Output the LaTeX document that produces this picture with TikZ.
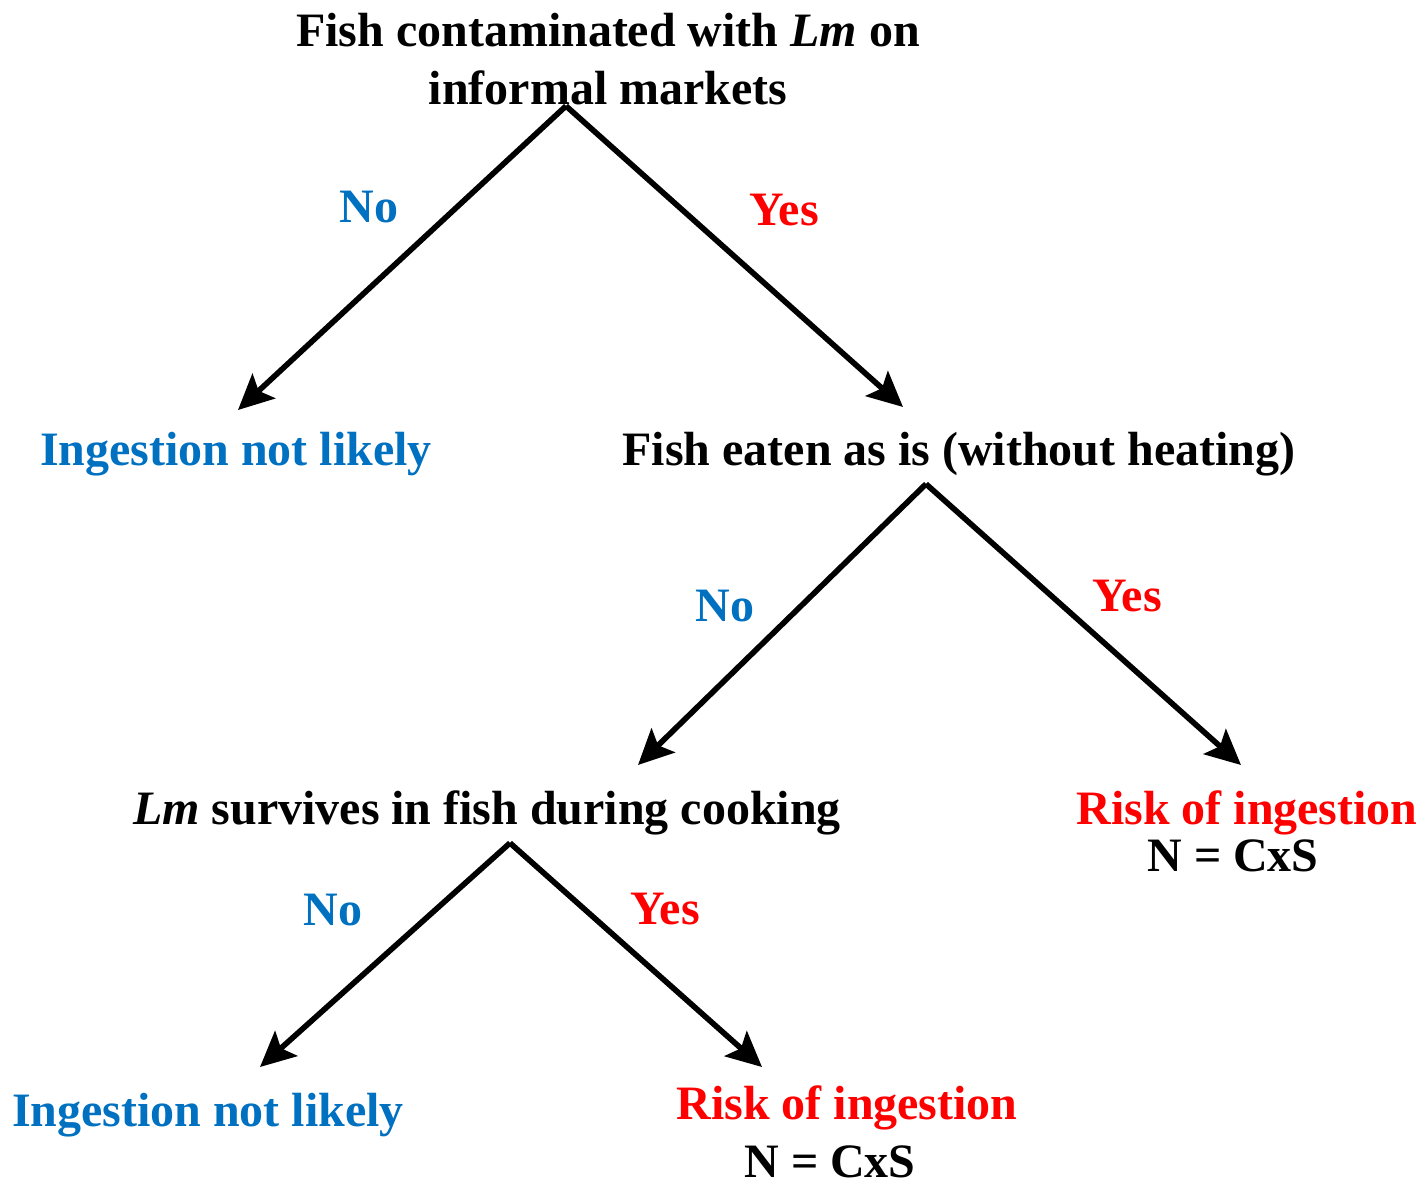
\documentclass[tikz,border=0pt]{standalone}
\usepackage{fontspec}
\setmainfont{Liberation Serif}
\usetikzlibrary{arrows.meta}
\definecolor{noblue}{RGB}{0,112,192}
\definecolor{yesred}{RGB}{255,0,0}

\begin{document}
\begin{tikzpicture}[x=0.02cm,y=-0.02cm,nodes={font=\fontsize{27.3}{33}\selectfont\bfseries,inner sep=0}]
\tikzstyle{branch}=[line width=3.2pt,-{Stealth[length=20pt,width=19pt,inset=4pt]}]
\tikzstyle{no}=[text=noblue]
\tikzstyle{yes}=[text=yesred]
\useasboundingbox (0,0) rectangle (1423,1190);
% question nodes
\node[align=center] (root) at (608,59) {Fish contaminated with \textit{Lm} on\\informal markets};
\node[no] (notlikely1) at (236,454) {Ingestion not likely};
\node (eaten) at (959,454) {Fish eaten as is (without heating)};
\node (survives) at (487,813) {\textit{Lm} survives in fish during cooking};
\node[yes] (risk1) at (1247,813) {Risk of ingestion};
\node (n1) at (1233,856) {N = CxS};
\node[no] (notlikely2) at (208,1115) {Ingestion not likely};
\node[yes] (risk2) at (847,1108) {Risk of ingestion};
\node (n2) at (830,1162) {N = CxS};
% apex and tips
\coordinate (a1) at (566,106);
\coordinate (a2) at (926,484);
\coordinate (a3) at (510,843);
\coordinate (t1) at (238,410);
\coordinate (t2) at (903,407);
\coordinate (t3) at (638,765);
\coordinate (t4) at (1241,765);
\coordinate (t5) at (260,1067);
\coordinate (t6) at (762,1067);
\draw[branch] (a1) -- (t1);
\draw[branch] (a1) -- (t2);
\draw[branch] (a2) -- (t3);
\draw[branch] (a2) -- (t4);
\draw[branch] (a3) -- (t5);
\draw[branch] (a3) -- (t6);
% answers
\node[no] (no1) at (369,207) {No};
\node[yes] (yes1) at (784,210) {Yes};
\node[no] (no2) at (725,606) {No};
\node[yes] (yes2) at (1127,596) {Yes};
\node[no] (no3) at (333,910) {No};
\node[yes] (yes3) at (665,909) {Yes};
\end{tikzpicture}
\end{document}
